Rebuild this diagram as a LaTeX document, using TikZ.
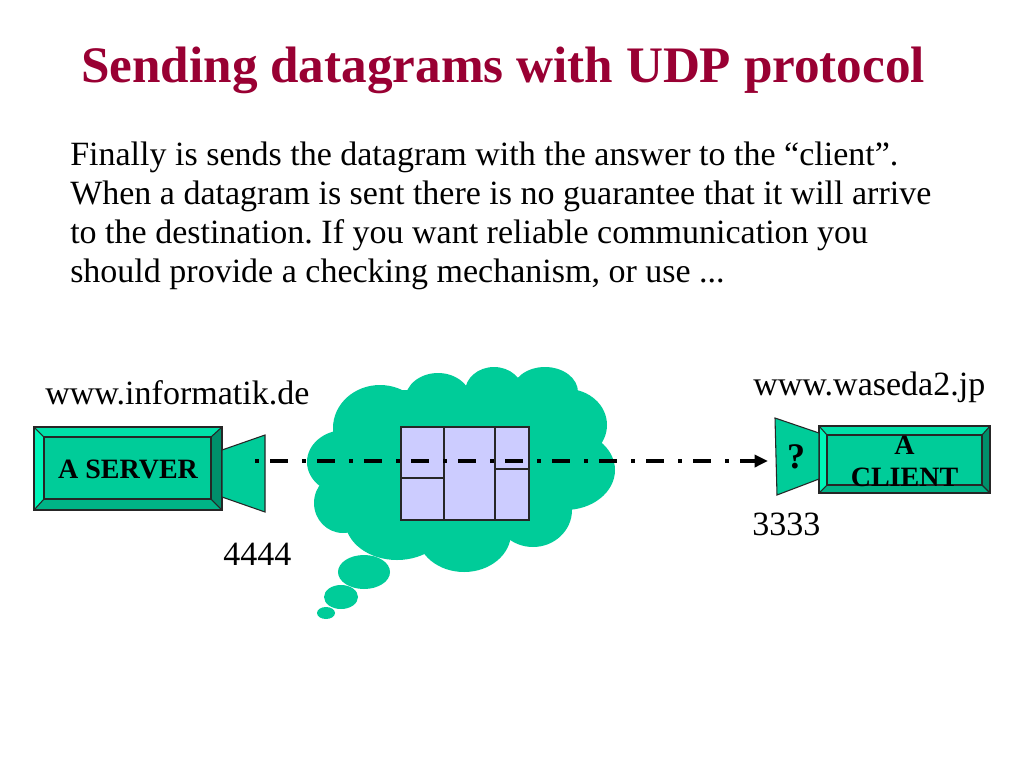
\documentclass[tikz,border=0pt]{standalone}
\usepackage{fontspec}
\setmainfont{Liberation Serif}
\frenchspacing
\usetikzlibrary{arrows.meta}
\definecolor{teal1}{HTML}{00CC99}
\definecolor{bevT}{HTML}{00E0A8}
\definecolor{bevL}{HTML}{00F5B8}
\definecolor{bevB}{HTML}{00B386}
\definecolor{bevR}{HTML}{008F6B}
\definecolor{lav}{HTML}{CCCCFF}
\definecolor{titlered}{HTML}{990033}
\tikzset{
  titletext/.style={anchor=base west,inner sep=0pt,text=titlered,font=\fontsize{38.4pt}{44pt}\selectfont\bfseries},
  bodytext/.style={anchor=base west,inner sep=0pt,font=\fontsize{25.5pt}{30pt}\selectfont},
  labeltext/.style={anchor=base west,inner sep=0pt,font=\fontsize{25.5pt}{30pt}\selectfont},
  boxtext/.style={anchor=base,inner sep=0pt,font=\fontsize{21pt}{24pt}\selectfont\bfseries},
  edge/.style={draw=black!85,line width=0.8pt,line join=miter},
  lens/.style={fill=teal1,draw=black!85,line width=0.8pt},
  cloudpart/.style={fill=teal1,draw=none},
  mem/.style={draw=black!85,line width=1pt},
  flow/.style={line width=2.6pt,dash pattern=on 3pt off 8.25pt on 13.5pt off 10.5pt,-{Triangle[length=10pt,width=9pt]}}
}
\newcommand{\bevelbox}[8]{% x0 y0 x1 y1 ix0 iy0 ix1 iy1
  \fill[bevT] (#1,#2)--(#3,#2)--(#7,#6)--(#5,#6)--cycle;
  \fill[bevL] (#1,#2)--(#5,#6)--(#5,#8)--(#1,#4)--cycle;
  \fill[bevB] (#1,#4)--(#5,#8)--(#7,#8)--(#3,#4)--cycle;
  \fill[bevR] (#3,#2)--(#3,#4)--(#7,#8)--(#7,#6)--cycle;
  \fill[teal1] (#5,#6) rectangle (#7,#8);
  \draw[edge] (#1,#2) rectangle (#3,#4);
  \draw[edge] (#5,#6) rectangle (#7,#8);
  \draw[edge] (#1,#2)--(#5,#6) (#3,#2)--(#7,#6) (#1,#4)--(#5,#8) (#3,#4)--(#7,#8);
}
\begin{document}
\begin{tikzpicture}[x=0.75pt,y=-0.75pt]
\useasboundingbox[fill=white] (0,0) rectangle (1024,768);

\node[titletext] (title) at (81,82) {Sending datagrams with UDP protocol};
\node[bodytext] (l1) at (70,165) {Finally is sends the datagram with the answer to the “client”.};
\node[bodytext] (l2) at (70,204) {When a datagram is sent there is no guarantee that it will arrive};
\node[bodytext] (l3) at (70,243) {to the destination. If you want reliable communication you};
\node[bodytext] (l4) at (70,282) {should provide a checking mechanism, or use ...};

% cloud
\foreach \cx/\cy/\rx/\ry in {345/462/38/32,380/428/47/43,438/400/33/27,494/392/29/25,545/392/33/25,
  567/425/40/36,565/470/50/40,533/510/39/37,464/533/47/39,397/520/52/40,343/503/29/30,
  364/572/26/17,341/597/17/12,326/613/9/6}
  \fill[cloudpart] (\cx,\cy) ellipse [x radius=\rx,y radius=\ry];
\fill[cloudpart] (350,430) rectangle (570,520);
\fill[cloudpart] (400,390) rectangle (550,540);

% memory block
\fill[lav] (401,427) rectangle (529,520);
\draw[mem] (401,427) rectangle (529,520);
\draw[mem] (444,427)--(444,520) (495,427)--(495,520) (401,478)--(444,478) (495,469)--(529,469);

% server
\bevelbox{34}{427}{222}{510}{44}{437}{211}{499}
\draw[lens] (222,450)--(265,435)--(265,512)--(222,497)--cycle;
\node[boxtext] (server) at (128,478) {A SERVER};

% client
\bevelbox{819}{426}{990}{493}{827}{435}{982}{485}
\draw[lens] (775,418)--(819,433)--(819,479)--(777,495)--cycle;
\node[boxtext] (clienta) at (904.5,454) {A};
\node[boxtext] (clientb) at (904.5,486) {CLIENT};
\node[anchor=base,inner sep=0pt,font=\fontsize{27pt}{30pt}\selectfont\bfseries] (q) at (796,468) {?};

% labels
\node[labeltext] (hostA) at (45,404) {www.informatik.de};
\node[labeltext] (hostB) at (753,395) {www.waseda2.jp};
\node[labeltext] (portA) at (223,565) {4444};
\node[labeltext] (portB) at (752,535) {3333};

% flow
\coordinate (from) at (255,461);
\coordinate (to) at (768,461);
\draw[flow] (from) -- (to);
\end{tikzpicture}
\end{document}
